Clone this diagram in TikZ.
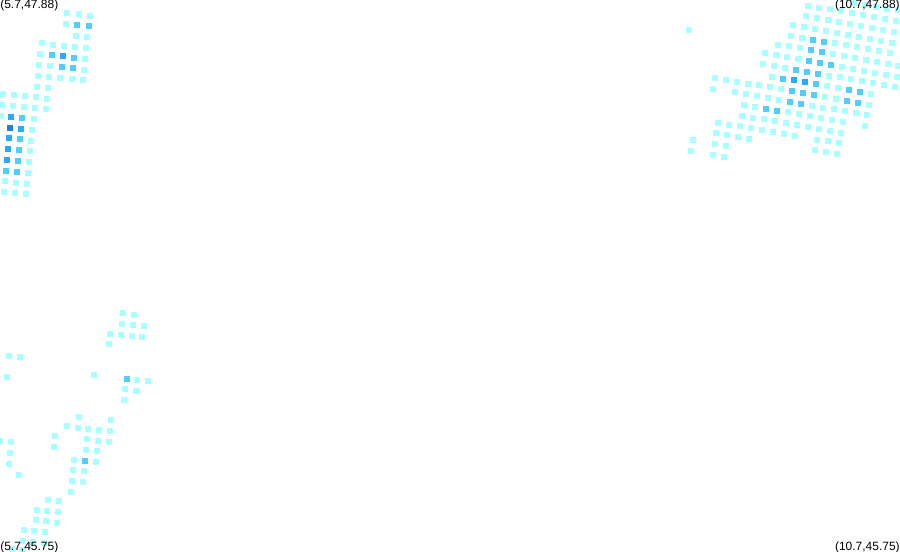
\documentclass[tikz,border=0pt]{standalone}
\usepackage{fontspec}
\setmainfont{Liberation Sans}
\definecolor{levela}{HTML}{AAFFFF}
\definecolor{levelb}{HTML}{55CCFF}
\definecolor{levelc}{HTML}{2AAAFF}
\definecolor{leveld}{HTML}{1E80E0}
\tikzset{corner/.style={font=\fontsize{9pt}{10pt}\selectfont, text=black, inner sep=0pt}}
\begin{document}
\begin{tikzpicture}[x=0.75pt,y=-0.75pt]
\useasboundingbox (0,0) rectangle (900,552);
\clip (0,0) rectangle (900,552);
% lowest level, top left
\foreach \x/\y in {67/13,79/14,90/16,66/24,76/36,87/37,42/43,53/45,64/46,75/47,86/48,40/54,85/59,39/65,50/66,84/70,38/76,49/77,60/78,72/79,83/80,37/87,48/88,3/94,14/95,25/96,36/97,47/99,2/105,13/106,24/107,35/108,46/109,1/116,34/119,32/130,31/141,30/151,29/162,28/173,5/181,16/183,27/184,4/192,15/193,26/194} {
    \fill [levela] (\x-3.2,\y-3.2) rectangle (\x+3.2,\y+3.2);
}
% lowest level, top right
\foreach \x/\y in {689/30,854/3,865/5,876/7,887/9,898/10,808/6,819/8,830/9,841/11,852/13,863/15,874/17,885/19,896/21,806/16,817/18,828/20,839/22,850/24,861/26,872/28,883/30,894/32,793/25,804/27,815/29,826/31,837/33,848/35,859/37,870/39,881/41,892/43,791/36,802/38,835/43,846/45,857/47,868/49,879/51,890/53,778/45,789/46,800/48,833/54,844/56,855/58,866/60,877/62,888/64,898/66,765/53,776/55,787/57,798/59,842/67,853/69,864/71,875/73,886/75,897/77,763/64,774/66,785/68,829/76,840/77,851/79,862/81,873/83,884/85,895/87,772/77,827/86,838/88,871/94,715/78,726/80,737/82,748/84,759/85,770/87,781/89,825/97,836/99,869/105,713/89,735/92,746/94,757/96,768/98,779/100,812/106,823/108,834/109,845/111,856/113,867/115,744/105,755/107,788/112,799/114,810/116,821/118,832/120,843/122,865/126,742/116,753/118,764/119,775/121,786/123,797/125,808/127,819/129,830/131,841/133,718/123,729/125,740/126,751/128,762/130,773/132,784/134,795/136,716/133,727/135,738/137,749/139,693/140,691/151,715/144,726/146,713/155,724/157,817/140,828/141,839/143,815/150,826/152,837/154} {
    \fill [levela] (\x-3.2,\y-3.2) rectangle (\x+3.2,\y+3.2);
}
% lowest level, bottom left
\foreach \x/\y in {123/313,134/315,122/324,133/325,144/326,110/334,121/335,132/336,142/337,109/344,9/356,20/357,7/377,94/375,137/380,148/381,125/389,136/391,124/400,79/417,111/420,67/426,78/428,88/429,99/430,110/431,55/436,87/439,98/441,109/442,0/441,11/442,54/447,86/450,97/451,10/453,74/460,96/462,9/464,73/470,84/471,19/475,72/481,83/482,71/492,48/500,59/501,37/510,47/511,58/512,36/520,46/521,57/523,24/530,34/531,45/532,23/541,33/542,44/543,12/549,22/550} {
    \fill [levela] (\x-3.2,\y-3.2) rectangle (\x+3.2,\y+3.2);
}
% second level
\foreach \x/\y in {77/25,89/26,52/55,74/58,62/67,73/68,22/118,20/139,19/150,18/161,6/171,17/172,813/40,824/42,811/50,822/52,809/61,820/63,831/65,796/70,807/72,818/74,783/79,816/84,849/90,860/92,792/91,803/93,814/95,847/101,858/103,790/102,801/104,766/109,777/111,127/379,85/461} {
    \fill [levelb] (\x-3.2,\y-3.2) rectangle (\x+3.2,\y+3.2);
}
% third level
\foreach \x/\y in {63/56,11/117,21/129,9/138,8/149,7/160,794/80,805/82} {
    \fill [levelc] (\x-3.2,\y-3.2) rectangle (\x+3.2,\y+3.2);
}
% top level
\fill [leveld] (10-3.2,128-3.2) rectangle (10+3.2,128+3.2);
% corners
\node [corner, anchor=west] (nw) at (0,5) {(5.7,47.88)};
\node [corner, anchor=east] (ne) at (900,5) {(10.7,47.88)};
\node [corner, anchor=west] (sw) at (0,547.5) {(5.7,45.75)};
\node [corner, anchor=east] (se) at (900,547.5) {(10.7,45.75)};
\end{tikzpicture}
\end{document}
